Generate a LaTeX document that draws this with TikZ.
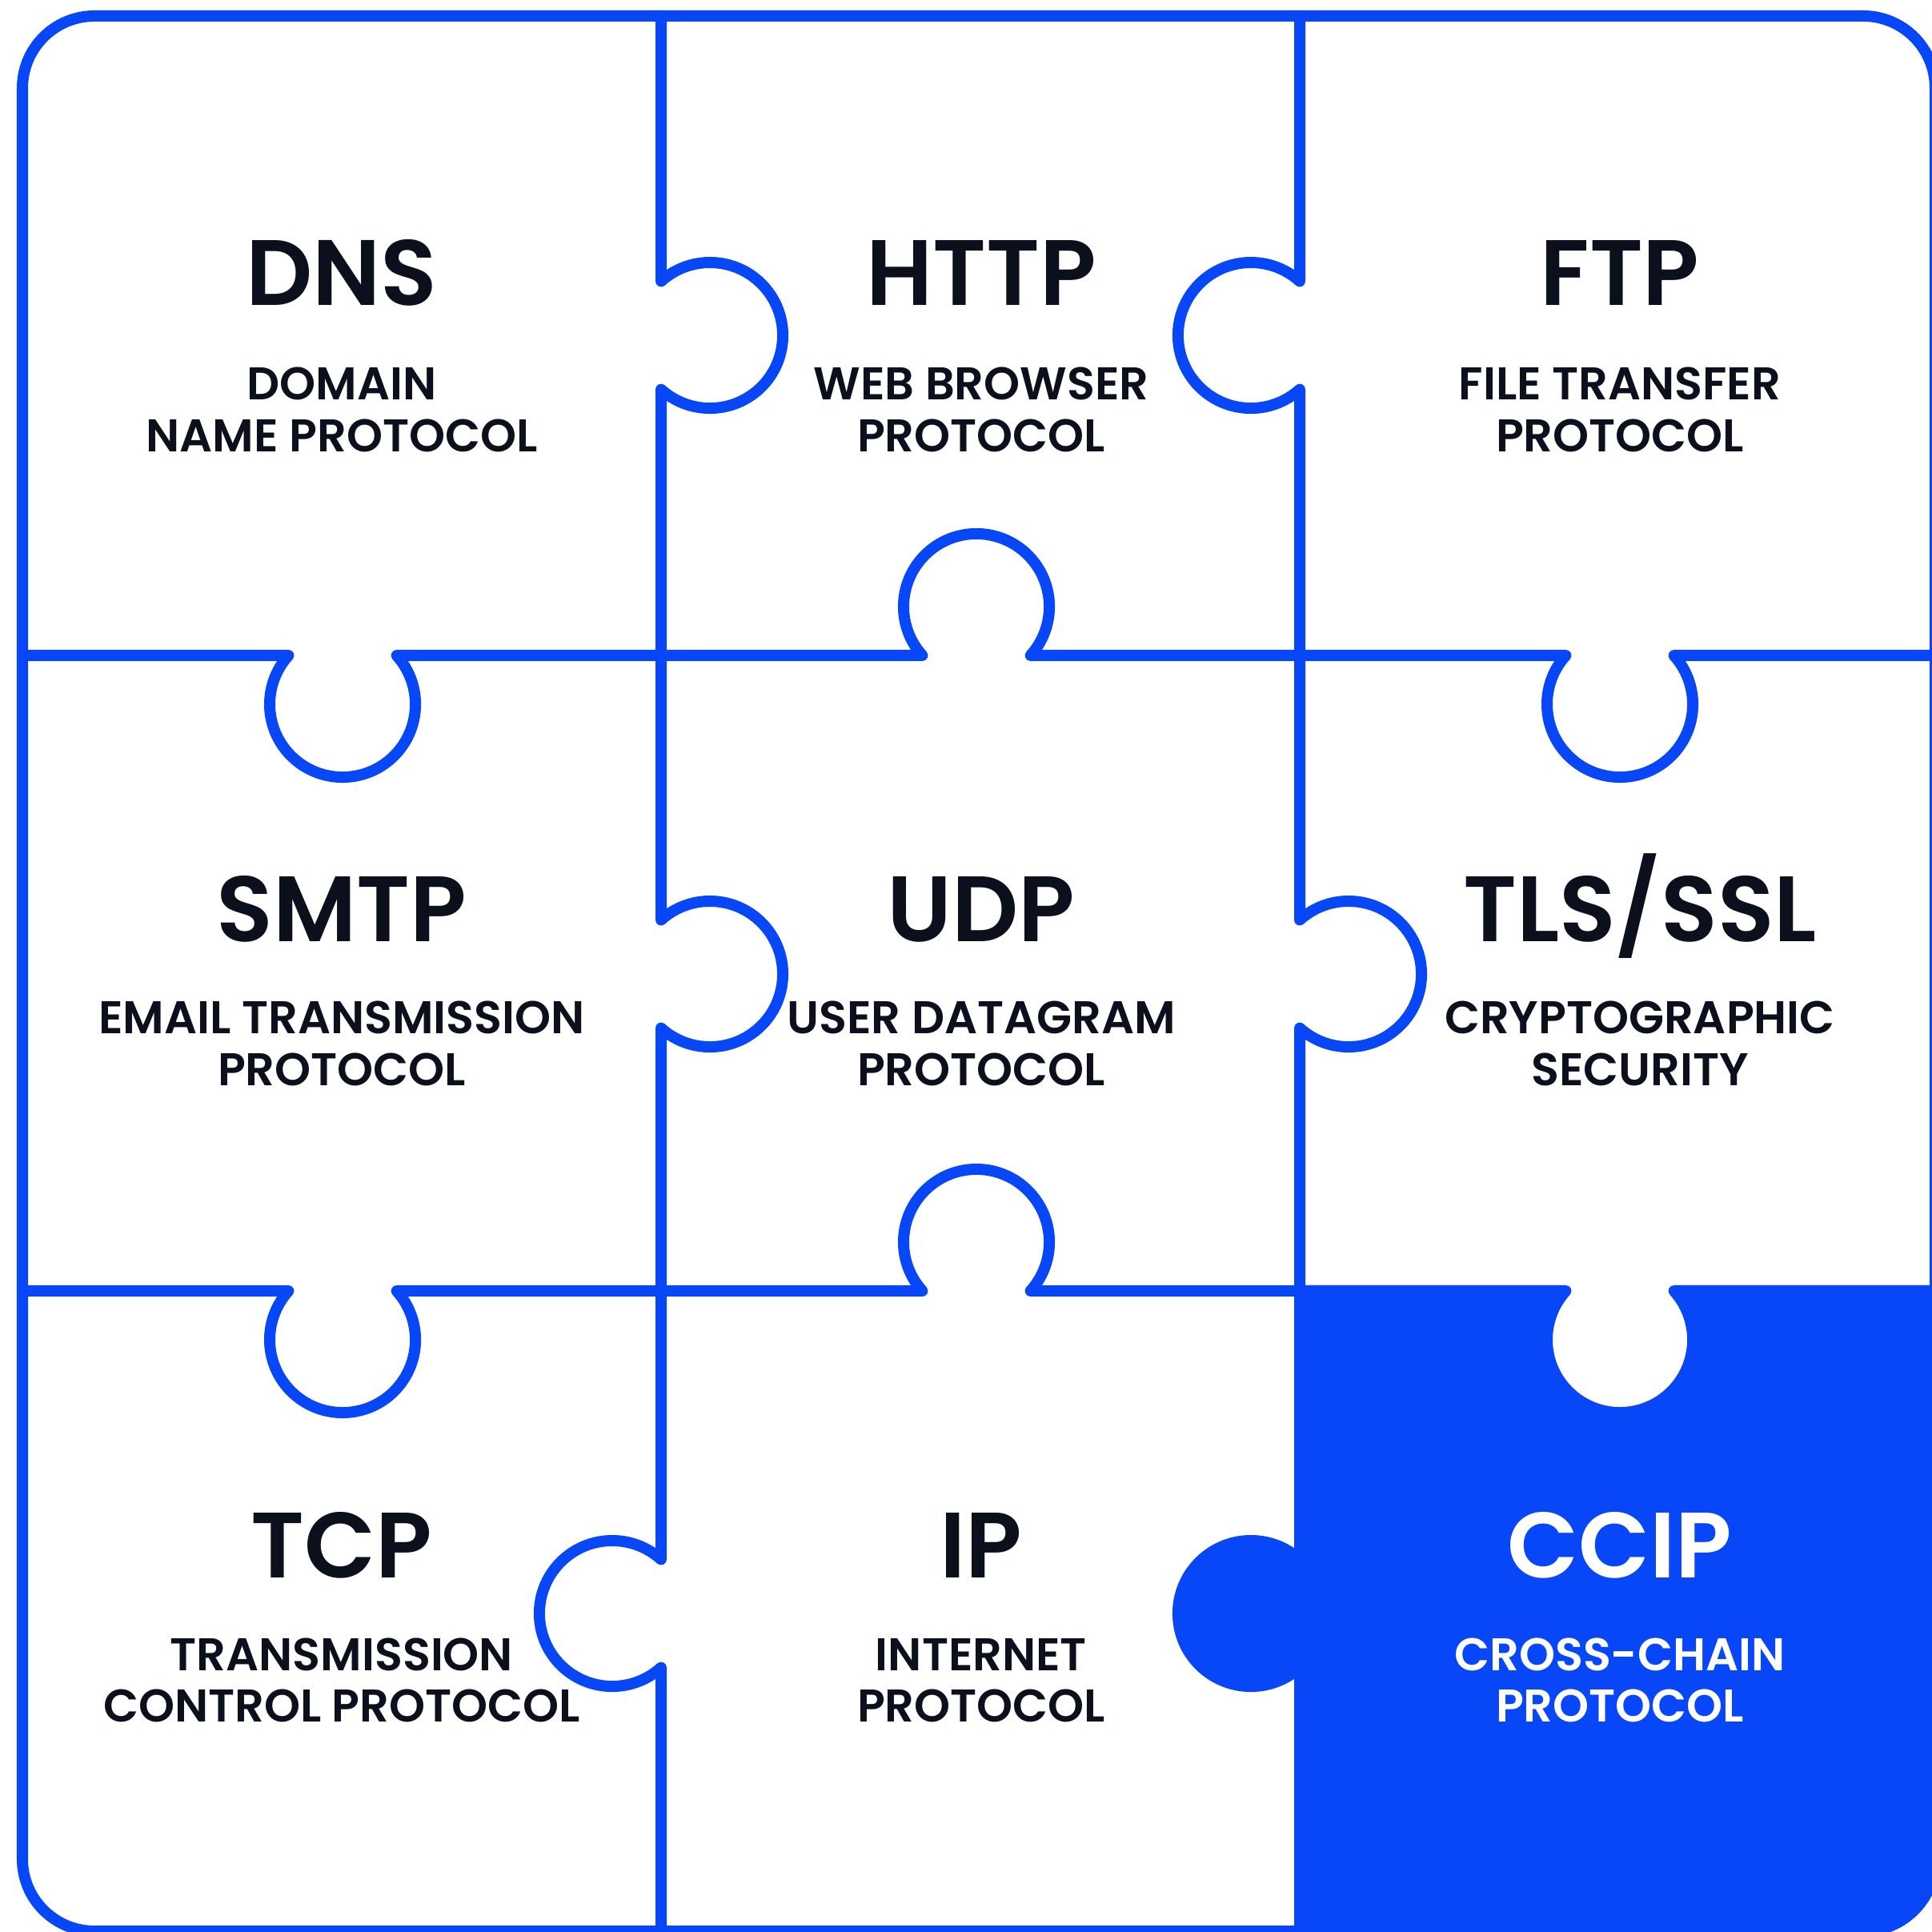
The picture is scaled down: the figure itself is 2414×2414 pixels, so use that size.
\documentclass[tikz,border=0pt]{standalone}
\usepackage{fontspec}
\setmainfont{Poppins}[BoldFont={Poppins SemiBold}]
\definecolor{cblue}{HTML}{0847F7}
\definecolor{ink}{HTML}{0B101C}
\tikzset{
  x=0.01cm, y=0.01cm,
  grid/.style={draw=cblue, line width=0.14cm, line join=round, line cap=round},
  ttl/.style={font=\bfseries\fontsize{33}{36}\selectfont, text=ink, inner sep=0pt, anchor=base},
  sub/.style={font=\bfseries\fontsize{16.3}{18}\selectfont, text=ink, inner sep=0pt, anchor=base},
  kn/.style={radius=0.91cm}
}
\begin{document}
\begin{tikzpicture}
\useasboundingbox (0,0) rectangle (2414,2414);
\clip (0,0) rectangle (2414,2414);
\fill[white] (0,0) rectangle (2414,2414);
% CCIP piece fill
\fill[cblue] (1617,808) -- (2425,808) -- (2425,91) arc[start angle=0, end angle=-90, radius=0.97cm] -- (1617,-6) -- cycle;
\fill[cblue] (1563,398) circle[radius=0.91cm];
\fill[white] (1956.47,801) arc[start angle=137.91, end angle=402.09, kn] -- ++(0,14) -- (1956.47,815) -- cycle;
% outer border
\draw[grid, rounded corners=0.9cm] (28,1) rectangle (2418,2394);
% vertical lines
\draw[grid] (826,2394) -- (826,2062.53) arc[start angle=132.09, end angle=-132.09, kn]
  -- (826,1264.53) arc[start angle=132.09, end angle=-132.09, kn]
  -- (826,465.53) arc[start angle=47.91, end angle=312.09, kn] -- (826,1);
\draw[grid] (1624,2394) -- (1624,2062.53) arc[start angle=47.91, end angle=312.09, kn]
  -- (1624,1264.53) arc[start angle=132.09, end angle=-132.09, kn]
  -- (1624,465.53) arc[start angle=47.91, end angle=312.09, kn] -- (1624,1);
% horizontal lines
\draw[grid] (28,1595) -- (360.47,1595) arc[start angle=137.91, end angle=402.09, kn]
  -- (1152.47,1595) arc[start angle=222.09, end angle=-42.09, kn]
  -- (1956.47,1595) arc[start angle=137.91, end angle=402.09, kn] -- (2418,1595);
\draw[grid] (28,801) -- (360.47,801) arc[start angle=137.91, end angle=402.09, kn]
  -- (1152.47,801) arc[start angle=222.09, end angle=-42.09, kn]
  -- (1956.47,801) arc[start angle=137.91, end angle=402.09, kn] -- (2418,801);
% texts row 0
\node[ttl] (dns) at (427,2032) {DNS};
\node[sub] (dnsa) at (427,1914) {DOMAIN};
\node[sub] (dnsb) at (427,1849) {NAME PROTOCOL};
\node[ttl] (http) at (1226,2032) {HTTP};
\node[sub] (httpa) at (1226,1914) {WEB BROWSER};
\node[sub] (httpb) at (1226,1849) {PROTOCOL};
\node[ttl] (ftp) at (2024,2032) {FTP};
\node[sub] (ftpa) at (2024,1914) {FILE TRANSFER};
\node[sub] (ftpb) at (2024,1849) {PROTOCOL};
% row 1
\node[ttl] (smtp) at (427,1237) {SMTP};
\node[sub] (smtpa) at (427,1122) {EMAIL TRANSMISSION};
\node[sub] (smtpb) at (427,1057) {PROTOCOL};
\node[ttl] (udp) at (1226,1237) {UDP};
\node[sub] (udpa) at (1226,1122) {USER DATAGRAM};
\node[sub] (udpb) at (1226,1057) {PROTOCOL};
\node[ttl] (tls) at (2049,1237) {TLS/SSL};
\node[sub] (tlsa) at (2049,1122) {CRYPTOGRAPHIC};
\node[sub] (tlsb) at (2049,1057) {SECURITY};
% row 2
\node[ttl] (tcp) at (427,442) {TCP};
\node[sub] (tcpa) at (427,326) {TRANSMISSION};
\node[sub] (tcpb) at (427,262) {CONTROL PROTOCOL};
\node[ttl] (ip) at (1226,442) {IP};
\node[sub] (ipa) at (1226,326) {INTERNET};
\node[sub] (ipb) at (1226,262) {PROTOCOL};
\node[ttl, text=white] (ccip) at (2024,442) {CCIP};
\node[sub, text=white] (ccipa) at (2024,326) {CROSS-CHAIN};
\node[sub, text=white] (ccipb) at (2024,262) {PROTOCOL};
\end{tikzpicture}
\end{document}
